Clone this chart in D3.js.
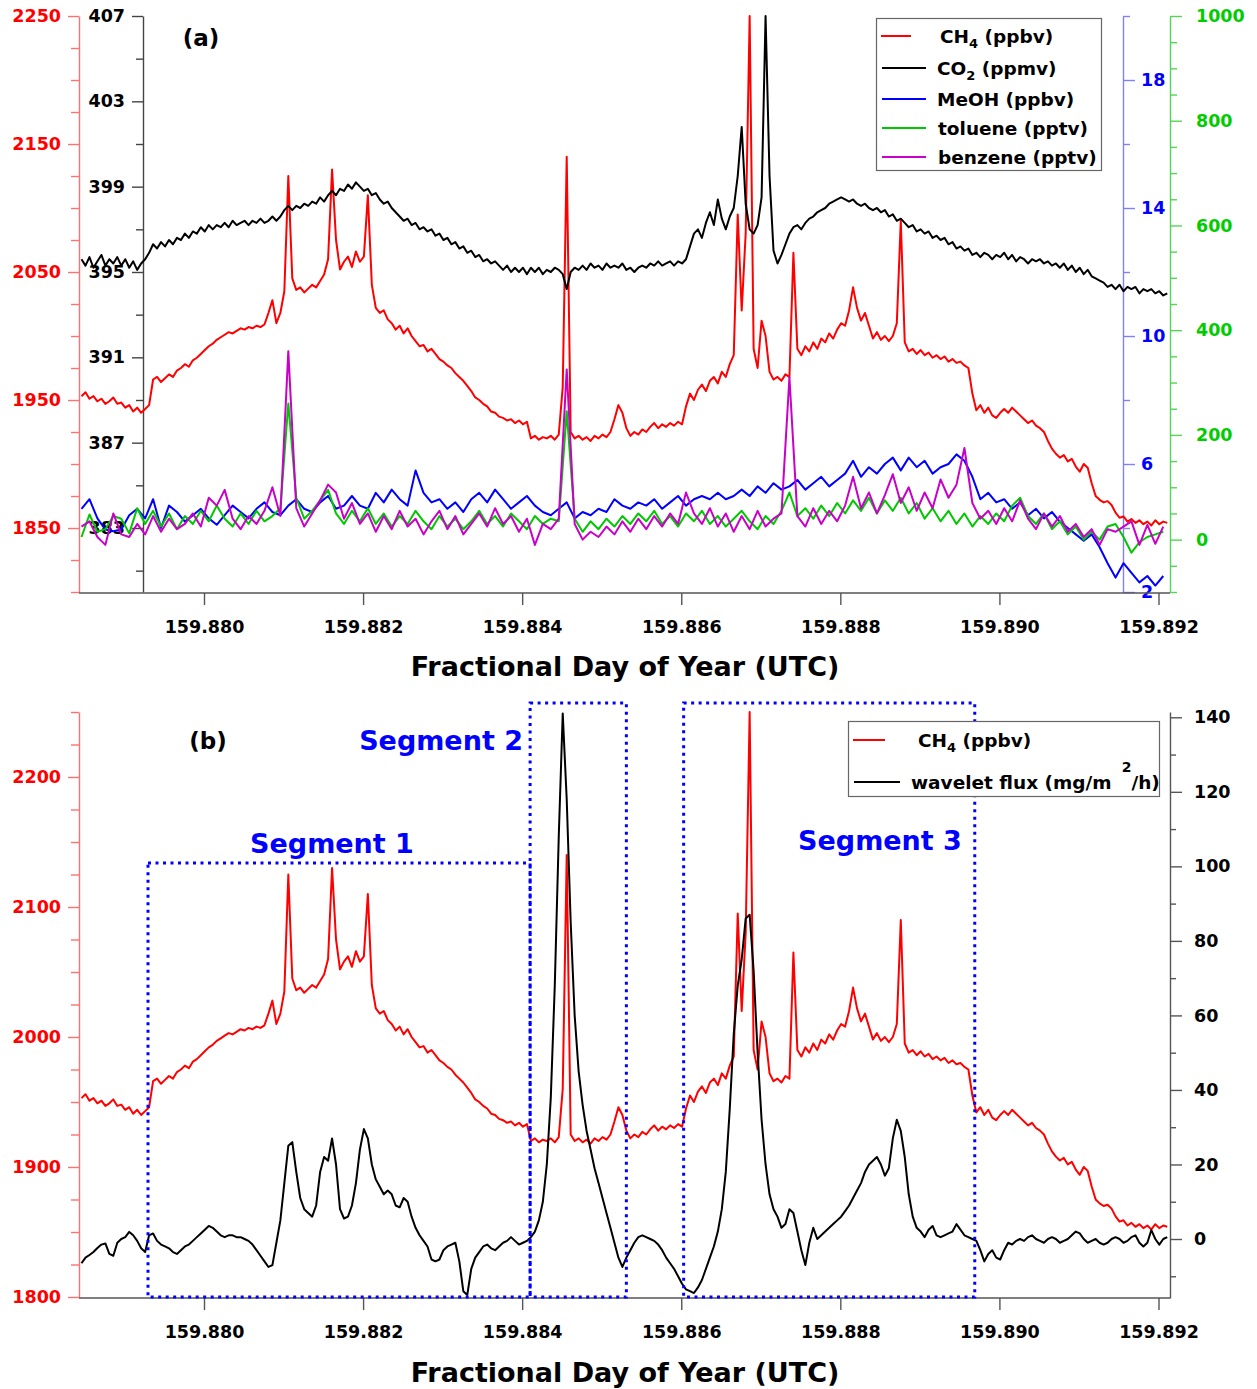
<!DOCTYPE html>
<html><head><meta charset="utf-8">
<script src="https://cdn.jsdelivr.net/npm/d3@7"></script>
<style>
body{margin:0;background:#fff}
svg text{font-family:"DejaVu Sans",sans-serif;font-weight:bold}
</style>
</head><body>
<svg id="c" width="1257" height="1389"></svg>
<script>
// ---------------- DATA ----------------
// time grid (fractional day of year): regular sampling
const T0 = 159.87846;
const DT_FINE = 0.00005;
const DT_COARSE = 0.0001;

// CH4 (ppbv), fine grid
const ch4 = [
1953,1956,1951,1953,1949,1951,1947,1949,1952,1947,
1948,1944,1946,1941,1944,1940,1943,1946,1966,1968,
1964,1967,1970,1968,1973,1975,1978,1976,1981,1983,
1986,1989,1992,1994,1997,1999,2001,2003,2002,2004,
2006,2005,2007,2006,2008,2007,2009,2018,2028,2010,
2018,2035,2125,2045,2036,2038,2034,2037,2040,2038,
2043,2048,2060,2130,2075,2052,2058,2062,2054,2066,
2058,2062,2110,2040,2022,2018,2020,2013,2010,2005,
2008,2002,2006,2000,1996,1992,1993,1988,1990,1986,
1982,1980,1977,1975,1971,1968,1965,1961,1957,1952,
1950,1947,1945,1941,1940,1937,1936,1934,1935,1932,
1934,1931,1933,1920,1922,1919,1921,1920,1922,1919,
1923,1960,2140,1925,1920,1922,1919,1921,1918,1922,
1920,1923,1921,1925,1935,1946,1940,1928,1922,1925,
1923,1927,1925,1929,1932,1928,1931,1929,1932,1930,
1933,1931,1945,1955,1950,1958,1962,1957,1965,1968,
1963,1972,1968,1978,1985,2095,2020,2080,2250,1990,
1975,2012,2000,1972,1966,1968,1965,1970,1968,2065,
1990,1985,1992,1988,1995,1990,1998,1995,2002,1998,
2005,2010,2008,2020,2038,2022,2012,2018,2008,1998,
2003,1997,2000,1996,2000,2010,2090,1995,1988,1990,
1986,1989,1985,1987,1983,1985,1982,1984,1980,1982,
1979,1980,1977,1975,1955,1942,1946,1940,1944,1938,
1936,1940,1943,1940,1944,1941,1938,1935,1932,1934,
1930,1928,1925,1918,1912,1908,1905,1907,1902,1904,
1898,1894,1900,1897,1885,1875,1872,1870,1871,1868,
1862,1858,1859,1855,1857,1854,1856,1853,1855,1852,
1856,1853,1855,1854];

// CO2 (ppmv), fine grid
const co2 = [
395.6,395.3,395.7,395.2,395.5,395.8,395.3,395.6,395.4,395.7,
395.3,395.6,395.2,395.5,395.1,395.4,395.6,395.9,396.3,396.1,
396.4,396.2,396.5,396.3,396.6,396.5,396.8,396.6,396.9,396.8,
397.1,396.9,397.2,397.0,397.2,397.1,397.3,397.1,397.4,397.2,
397.3,397.4,397.2,397.4,397.3,397.5,397.3,397.4,397.6,397.4,
397.6,397.9,398.1,397.9,398.1,398.0,398.2,398.1,398.3,398.2,
398.5,398.3,398.6,398.8,398.6,398.9,398.8,399.1,398.9,399.2,
399.0,398.8,398.9,398.6,398.7,398.4,398.2,398.3,398.0,397.8,
397.6,397.4,397.5,397.2,397.3,397.0,397.1,396.9,397.0,396.7,
396.8,396.5,396.6,396.3,396.4,396.1,396.2,395.9,396.0,395.7,
395.8,395.5,395.6,395.4,395.5,395.3,395.1,395.3,395.0,395.2,
395.0,395.2,394.9,395.2,395.0,395.2,394.9,395.1,395.0,395.2,
395.1,394.9,394.2,395.0,395.2,395.1,395.3,395.1,395.4,395.2,
395.3,395.1,395.4,395.2,395.3,395.2,395.4,395.1,395.2,395.0,
395.2,395.3,395.2,395.4,395.3,395.5,395.3,395.4,395.5,395.3,
395.5,395.4,395.6,396.2,396.8,397.0,396.6,397.3,397.8,397.2,
398.4,397.5,397.0,397.6,398.0,399.5,401.8,398.2,397.0,396.8,
397.2,398.5,407.0,399.5,396.0,395.4,395.8,396.3,396.8,397.1,
397.2,397.0,397.3,397.5,397.6,397.8,397.9,398.0,398.2,398.3,
398.4,398.5,398.4,398.3,398.4,398.2,398.1,398.2,398.0,397.9,
398.0,397.8,397.9,397.6,397.7,397.4,397.5,397.3,397.1,397.2,
396.9,397.0,396.8,396.9,396.6,396.7,396.5,396.6,396.3,396.4,
396.1,396.2,396.0,396.1,395.8,395.9,395.7,395.9,395.8,395.6,
395.8,395.7,395.9,395.6,395.8,395.5,395.7,395.6,395.4,395.6,
395.5,395.6,395.4,395.5,395.3,395.4,395.2,395.4,395.1,395.3,
395.0,395.2,394.9,395.1,394.8,394.7,394.6,394.5,394.3,394.4,
394.2,394.4,394.1,394.3,394.2,394.3,394.0,394.2,394.1,394.2,
394.0,394.1,393.9,394.0];

// wavelet flux (mg/m2/h), fine grid
const flux = [
-6.5,-5.0,-4.3,-3.5,-2.4,-1.5,-1.2,-4.0,-4.5,-1.0,
0.0,0.5,1.9,1.0,-0.5,-2.5,-3.5,1.0,1.5,-0.5,
-1.5,-2.0,-2.5,-3.5,-4.0,-3.0,-2.0,-1.5,-0.5,0.5,
1.5,2.5,3.5,3.0,2.0,1.0,0.5,1.0,1.0,0.5,
0.5,0.0,-0.5,-1.5,-3.0,-4.5,-6.0,-7.5,-7.0,-1.0,
5,15,25,26,18,11,8,7,6,9,
18,22,21,27,20,8,5.5,6,9,15,
24,29.5,27,20,16,14,12,13,12,9,
8.5,11,10,6,3,1,-0.5,-2,-5.5,-6,
-5.5,-3,-2,-1.5,-1,-6,-14,-15,-8,-5,
-3.5,-2,-1.5,-2.5,-3,-2,-1,-0.5,0.5,-0.5,
-1.5,-1,-0.5,0.5,2,5,10,20,38,68,
108,141,118,85,60,45,36,29,24,19,
15,11,7,3,-1,-5,-7.5,-5,-3,-1,
0.5,1,0.5,0,-0.5,-1.5,-3,-5,-6.5,-8,
-10,-12,-13.5,-14,-14.5,-13,-11,-8,-5,-2,
2,8,18,35,55,68,75,86,87,72,
50,32,20,12,8,6,3,4,8,7,
2,-3,-7,-1,3,0,1,2,3,4,
5,6,7.5,9,11,13,15,18,20,21,
22,20,17,19,27,32,29,22,12,6,
3,2,0.5,2.5,3.5,1,0.5,1,1.5,2,
4,2.5,1,0.5,0,-0.5,-3,-6,-4,-3,
-5,-5.5,-3,-1,-1.5,-0.5,0,-0.5,0.5,1,
0,-0.5,-1,0,0.5,0,-1,-0.5,0,1,
2,1.5,0,-1,-0.5,0,-1,-1.5,-1,0,
0.5,0,-1,-0.5,0.5,1,-1,-2,-1,2.4,
0,-1.5,0,0.5];

// MeOH (ppbv), coarse grid
const meoh = [
4.6,4.9,4.3,3.95,3.9,3.95,4.4,4.6,4.3,4.9,
4.0,4.7,4.5,4.2,4.4,4.6,4.3,4.1,4.4,4.7,
4.5,4.3,4.6,4.8,4.5,4.4,4.7,4.9,4.6,4.5,
4.8,5.0,4.6,4.7,5.0,4.7,4.6,5.1,4.8,5.2,
4.9,4.7,5.8,5.1,4.8,4.9,4.6,4.8,4.5,4.9,
5.1,4.8,5.2,4.9,4.6,4.8,5.0,4.7,4.5,4.4,
4.6,4.8,4.3,4.5,4.4,4.6,4.5,4.9,4.7,4.6,
4.8,4.7,4.9,4.6,4.8,5.0,4.7,4.9,5.0,4.9,
5.1,4.9,5.0,5.2,5.0,5.3,5.1,5.4,5.2,5.3,
5.5,5.2,5.4,5.6,5.3,5.5,5.7,6.1,5.6,5.9,
5.7,6.0,6.2,5.8,6.2,5.9,6.1,5.7,5.9,6.0,
6.3,6.1,5.6,4.9,5.1,4.8,4.9,4.6,4.8,4.4,
4.6,4.3,4.5,4.2,4.0,3.8,3.6,3.8,3.4,2.9,
2.45,2.9,2.6,2.3,2.5,2.2,2.5];

// toluene (pptv), coarse grid
const toluene = [
5,48,15,20,45,40,12,60,30,55,
25,50,20,45,30,55,35,65,40,25,
50,30,55,35,45,60,260,80,40,55,
75,95,50,30,55,35,60,30,50,25,
45,30,55,35,20,45,25,40,20,35,
55,30,45,25,50,35,20,45,30,40,
35,245,40,15,35,20,40,25,45,30,
50,35,55,30,45,25,50,35,55,30,
45,25,40,55,35,20,45,30,55,90,
45,60,40,65,45,70,50,75,55,80,
50,75,55,80,50,70,40,60,35,55,
30,50,25,45,30,50,35,65,80,45,
30,50,20,35,10,25,0,15,0,25,
30,5,-25,-5,5,10,15];

// benzene (pptv), coarse grid
const benzene = [
25,35,5,-10,50,10,5,30,10,45,
15,40,20,30,50,25,80,65,95,40,
20,45,30,55,100,45,360,60,25,50,
75,105,90,40,70,30,50,15,45,20,
55,25,40,10,35,55,20,45,10,30,
50,25,60,30,45,15,40,-10,30,20,
40,325,30,0,15,5,25,10,35,15,
40,20,45,25,50,30,90,50,30,60,
25,50,15,45,20,55,25,40,50,310,
45,25,60,30,55,35,65,120,60,90,
50,85,125,70,100,55,90,60,115,80,
105,175,70,40,55,30,60,35,75,40,
20,50,25,45,15,30,5,20,-10,20,
15,25,35,-10,28,-8,25];

// segments in panel (b): start/end day, top in CH4 units
const segNames = ["Segment 1","Segment 2","Segment 3"];
const segStart = [159.879296, 159.88410, 159.88603];
const segEnd   = [159.88410, 159.88531, 159.88969];
const segTop   = [2133.8, 2257, 2257];

// ticks
const xTicks = [159.880,159.882,159.884,159.886,159.888,159.890,159.892];
const ch4aMajor = [1850,1950,2050,2150,2250];
const ch4aMinor = [1800,1825,1875,1900,1925,1975,2000,2025,2075,2100,2125,2175,2200,2225];
const co2Major = [383,387,391,395,399,403,407];
const co2Minor = [381,385,389,393,397,401,405];
const meohMajor = [2,6,10,14,18];
const meohMinor = [4,8,12,16,20];
const pptMajor = [0,200,400,600,800,1000];
const pptMinor = [-100,-50,50,100,150,250,300,350,450,500,550,650,700,750,850,900,950];
const ch4bMajor = [1800,1900,2000,2100,2200];
const ch4bMinor = [1825,1850,1875,1925,1950,1975,2025,2050,2075,2125,2150,2175,2225,2250];
const fluxMajor = [0,20,40,60,80,100,120,140];
const fluxMinor = [-10,10,30,50,70,90,110,130];

// ---------------- CHART ----------------
const svg = d3.select('#c');
const FONT = '"DejaVu Sans", sans-serif';
const xa = d3.scaleLinear().domain([159.880, 159.892]).range([204, 1158.5]);

const yCH4a = d3.scaleLinear().domain([1800, 2250]).range([592, 16]);
const yCO2 = d3.scaleLinear().domain([380, 407]).range([592, 16]);
const yMeOH = d3.scaleLinear().domain([2, 20]).range([592, 16]);
const yPPT = d3.scaleLinear().domain([-100, 1000]).range([592, 16]);
const yCH4b = d3.scaleLinear().domain([1800, 2250]).range([1297, 712]);
const yFlux = d3.scaleLinear().domain([-15.83, 141.42]).range([1298, 712]);

function styleText(sel, color, size) {
  sel.attr('fill', color).style('font-family', FONT).style('font-weight', 'bold').style('font-size', size + 'px');
}

function vAxis(x, scale, side, majors, minors, majLen, minLen, pad, lineCol, txtCol, fmt) {
  const fn = side === 'left' ? d3.axisLeft : d3.axisRight;
  const g1 = svg.append('g').attr('transform', `translate(${x},0)`)
    .call(fn(scale).tickValues(minors).tickSize(minLen).tickSizeOuter(0).tickFormat(''));
  const g2 = svg.append('g').attr('transform', `translate(${x},0)`)
    .call(fn(scale).tickValues(majors).tickSize(majLen).tickSizeOuter(0).tickPadding(pad).tickFormat(fmt || d3.format('d')));
  g2.select('.domain').remove();
  [g1, g2].forEach(g => {
    g.selectAll('line').attr('stroke', lineCol).attr('stroke-width', 1.4);
    g.select('.domain').attr('stroke', lineCol).attr('stroke-width', 1.4);
  });
  styleText(g2.selectAll('text'), txtCol, 17.5);
}

function xAxis(y) {
  svg.append('line').attr('x1', 79).attr('x2', 1170).attr('y1', y).attr('y2', y)
    .attr('stroke', '#555').attr('stroke-width', 1.4);
  const g = svg.append('g').attr('transform', `translate(0,${y})`)
    .call(d3.axisBottom(xa).tickValues(xTicks).tickSize(12).tickSizeOuter(0).tickPadding(16).tickFormat(d3.format('.3f')));
  g.select('.domain').remove();
  g.selectAll('line').attr('stroke', '#555').attr('stroke-width', 1.4);
  styleText(g.selectAll('text'), '#000', 17.5);
}

// clip paths
const defs = svg.append('defs');
defs.append('clipPath').attr('id', 'clipA').append('rect').attr('x', 79).attr('y', 14).attr('width', 1091).attr('height', 579);
defs.append('clipPath').attr('id', 'clipB').append('rect').attr('x', 79).attr('y', 710).attr('width', 1091).attr('height', 588);

// ---- panel (a) axes ----
vAxis(79, yCH4a, 'left', ch4aMajor, ch4aMinor, 11, 8, 7, '#ff7070', '#ff0000');
vAxis(143, yCO2, 'left', co2Major, co2Minor, 11, 7, 7, '#444', '#000');
vAxis(1123, yMeOH, 'right', meohMajor, meohMinor, 12, 7, 6, '#8080ff', '#0000ff');
vAxis(1170, yPPT, 'right', pptMajor, pptMinor, 12, 7, 14, '#55d455', '#00cc00');
xAxis(593);

// ---- panel (b) axes ----
vAxis(79, yCH4b, 'left', ch4bMajor, ch4bMinor, 11, 8, 7, '#ff7070', '#ff0000');
vAxis(1170, yFlux, 'right', fluxMajor, fluxMinor, 12, 6, 12, '#555', '#000');
xAxis(1298);

// ---- lines ----
function drawLine(data, dt, y, color, clip, w) {
  const ln = d3.line().x((d, i) => xa(T0 + i * dt)).y(d => y(d));
  svg.append('path').datum(data).attr('d', ln).attr('fill', 'none')
    .attr('stroke', color).attr('stroke-width', w || 2).attr('stroke-linejoin', 'round')
    .attr('clip-path', `url(#${clip})`);
}
drawLine(ch4, DT_FINE, yCH4a, '#ff0000', 'clipA');
drawLine(co2, DT_FINE, yCO2, '#000000', 'clipA');
drawLine(meoh, DT_COARSE, yMeOH, '#0000ff', 'clipA');
drawLine(toluene, DT_COARSE, yPPT, '#00c800', 'clipA');
drawLine(benzene, DT_COARSE, yPPT, '#c800c8', 'clipA');

drawLine(ch4, DT_FINE, yCH4b, '#ff0000', 'clipB');
drawLine(flux, DT_FINE, yFlux, '#000000', 'clipB');

// ---- segment boxes ----
segNames.forEach((name, k) => {
  const x0 = xa(segStart[k]), x1 = xa(segEnd[k]), yt = yCH4b(segTop[k]), yb = yCH4b(1800);
  svg.append('rect').attr('x', x0).attr('y', yt).attr('width', x1 - x0).attr('height', yb - yt)
    .attr('fill', 'none').attr('stroke', '#0000ff').attr('stroke-width', 3).attr('stroke-dasharray', '3,4.5');
});
const segLabelPos = [[332, 853, 'middle'], [523, 750, 'end'], [880, 850, 'middle']];
segNames.forEach((name, k) => {
  const p = segLabelPos[k];
  styleText(svg.append('text').attr('x', p[0]).attr('y', p[1]).attr('text-anchor', p[2]).text(name), '#0000ff', 27);
});

// ---- panel labels ----
styleText(svg.append('text').attr('x', 201).attr('y', 46).attr('text-anchor', 'middle').text('(a)'), '#000', 23);
styleText(svg.append('text').attr('x', 208).attr('y', 749).attr('text-anchor', 'middle').text('(b)'), '#000', 23);

// ---- axis titles ----
styleText(svg.append('text').attr('x', 625).attr('y', 676).attr('text-anchor', 'middle').text('Fractional Day of Year (UTC)'), '#000', 27);
styleText(svg.append('text').attr('x', 625).attr('y', 1382).attr('text-anchor', 'middle').text('Fractional Day of Year (UTC)'), '#000', 27);

// ---- legend (a) ----
const legA = [
  {c: '#ff0000', main: 'CH', sub: '4', rest: ' (ppbv)', x1: 881, x2: 911, tx: 940, y: 36},
  {c: '#000000', main: 'CO', sub: '2', rest: ' (ppmv)', x1: 882, x2: 926, tx: 937, y: 68},
  {c: '#0000ff', main: 'MeOH (ppbv)', sub: '', rest: '', x1: 882, x2: 926, tx: 937, y: 99},
  {c: '#00c800', main: 'toluene (pptv)', sub: '', rest: '', x1: 882, x2: 926, tx: 938, y: 128},
  {c: '#c800c8', main: 'benzene (pptv)', sub: '', rest: '', x1: 882, x2: 926, tx: 938, y: 157}
];
svg.append('rect').attr('x', 876.5).attr('y', 18.5).attr('width', 225).attr('height', 152)
  .attr('fill', '#fff').attr('stroke', '#666').attr('stroke-width', 1.2);
legA.forEach(d => {
  svg.append('line').attr('x1', d.x1).attr('x2', d.x2).attr('y1', d.y).attr('y2', d.y).attr('stroke', d.c).attr('stroke-width', 2);
  const t = svg.append('text').attr('x', d.tx).attr('y', d.y + 6.5);
  t.append('tspan').text(d.main);
  if (d.sub) {
    t.append('tspan').attr('dy', 5).text(d.sub);
    t.append('tspan').attr('dy', -5).text(d.rest);
  }
  styleText(t, '#000', 18.5);
  t.selectAll('tspan').filter((e, i) => i === 1).style('font-size', '13px');
});

// ---- legend (b) ----
svg.append('rect').attr('x', 848.5).attr('y', 721.5).attr('width', 311).attr('height', 75)
  .attr('fill', '#fff').attr('stroke', '#666').attr('stroke-width', 1.2);
svg.append('line').attr('x1', 853).attr('x2', 885).attr('y1', 740).attr('y2', 740).attr('stroke', '#ff0000').attr('stroke-width', 2);
svg.append('line').attr('x1', 854).attr('x2', 900).attr('y1', 782).attr('y2', 782).attr('stroke', '#000').attr('stroke-width', 2);
{
  const t = svg.append('text').attr('x', 918).attr('y', 747);
  t.append('tspan').text('CH');
  t.append('tspan').attr('dy', 5).attr('class', 'sub').text('4');
  t.append('tspan').attr('dy', -5).text(' (ppbv)');
  styleText(t, '#000', 18.5);
  t.select('.sub').style('font-size', '13px');
  const t2 = svg.append('text').attr('x', 911).attr('y', 789);
  t2.append('tspan').text('wavelet flux (mg/m');
  t2.append('tspan').attr('dx', 10).attr('dy', -17).attr('class', 'sup').text('2');
  t2.append('tspan').attr('dy', 17).text('/h)');
  styleText(t2, '#000', 18.5);
  t2.select('.sup').style('font-size', '14px');
}
</script>
</body></html>
